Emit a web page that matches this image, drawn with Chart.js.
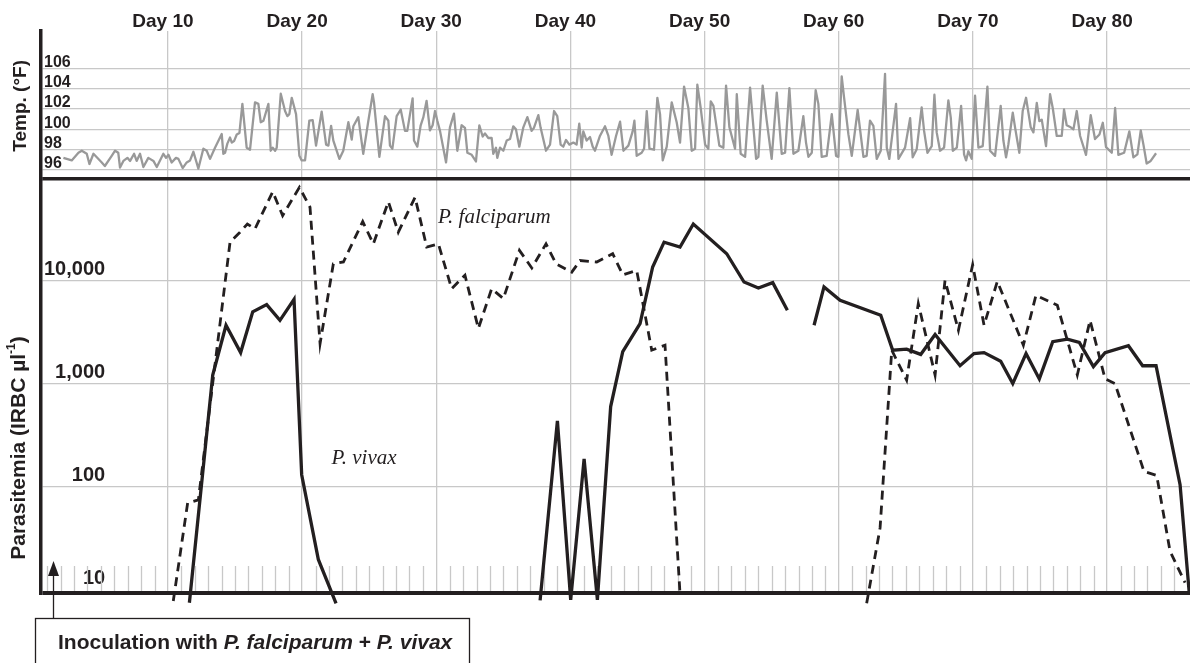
<!DOCTYPE html>
<html>
<head>
<meta charset="utf-8">
<title>Temperature and parasitemia</title>
<script src="https://cdn.jsdelivr.net/npm/chart.js@4.4.1/dist/chart.umd.min.js"></script>
<style>
  html, body { margin: 0; padding: 0; background: #fff; }
  canvas { display: block; }
</style>
</head>
<body>
<canvas id="chart" width="1190" height="663"></canvas>
<script>
// day ticks along the top
const dayLabels = [10, 20, 30, 40, 50, 60, 70, 80];
const tempTicks = [96, 98, 100, 102, 104, 106];
const parTicks = [10, 100, 1000, 10000];

// body temperature (°F)
const tempDays = [
  2.21, 2.83, 3.33, 3.58, 3.95, 4.15, 4.45, 5.07, 5.3, 5.81, 6.06, 6.3, 6.43, 6.68, 6.98, 7.18,
  7.48, 7.67, 7.92, 8.17, 8.54, 8.92, 9.17, 9.66, 9.86, 10.04, 10.28, 10.6, 10.78, 11.1, 11.4,
  11.65, 11.9, 12.27, 12.64, 12.89, 13.14, 13.51, 14.01, 14.13, 14.26, 14.43, 14.63, 14.76,
  14.93, 15.13, 15.33, 15.55, 15.87, 16.12, 16.49, 16.74, 16.92, 17.12, 17.49, 17.66, 17.81,
  17.99, 18.11, 18.41, 18.73, 18.9, 19.05, 19.23, 19.55, 19.8, 19.97, 20.22, 20.54, 20.79,
  21.04, 21.46, 21.79, 21.96, 22.16, 22.33, 22.78,
  23.07, 23.45, 23.7, 23.82, 24.19, 24.56, 24.94, 25.26, 25.36, 25.76, 26.18, 26.43, 26.55,
  26.73, 27.05, 27.35, 27.67, 27.84, 28.24, 28.34, 28.59, 28.84, 29.04, 29.28, 29.53, 29.73,
  29.91, 30.08, 30.28, 30.73, 31.02, 31.32, 31.57, 31.89, 32.14, 32.32, 32.64, 32.96, 33.21,
  33.46, 33.63, 33.88, 34.13, 34.25, 34.45, 34.55, 34.75, 35.0, 35.25, 35.5, 35.74, 35.94,
  36.19, 36.49, 36.79, 37.11, 37.28, 37.61, 37.78, 38.18, 38.48, 38.78, 39.02, 39.27, 39.47,
  39.67, 39.92, 40.22, 40.46, 40.66, 40.84, 40.96, 41.21, 41.46, 41.66, 41.83, 42.2, 42.58,
  42.83, 43.07, 43.4,
  43.7, 43.95, 44.32, 44.64, 44.77, 44.94, 45.31, 45.49, 45.69, 45.89, 46.23, 46.48, 46.68,
  46.88, 47.18, 47.55, 47.92, 48.17, 48.47, 48.79, 49.04, 49.29, 49.46, 49.71, 50.04, 50.28,
  50.46, 50.66, 51.1, 51.4, 51.6, 51.85, 52.27, 52.4, 52.69, 53.02, 53.39, 53.84, 54.01, 54.33,
  54.63, 55.0, 55.38, 55.75, 56.0, 56.32, 56.62, 56.99, 57.36, 57.56, 57.74, 57.99, 58.28,
  58.48, 58.73, 59.1, 59.48, 59.8, 59.97, 60.22, 60.4, 60.72, 60.97, 61.41, 61.84, 62.08,
  62.33, 62.58, 62.83, 63.13, 63.45, 63.58, 63.77, 64.27, 64.45,
  64.94, 65.32, 65.51, 65.81, 66.18, 66.36, 66.61, 66.93, 67.13, 67.3, 67.55, 67.85, 68.17,
  68.35, 68.5, 68.8, 69.12, 69.34, 69.49, 69.66, 69.91, 70.16, 70.41, 70.73, 71.08, 71.28,
  71.65, 72.07, 72.27, 72.47, 72.64, 72.97, 73.14, 73.46, 73.71, 73.96, 74.31, 74.51, 74.76,
  74.95, 75.13, 75.45, 75.75, 75.95, 76.25, 76.62, 76.79, 76.99, 77.29, 77.49, 77.74, 77.99,
  78.43, 78.78, 79.1, 79.43, 79.68, 79.92, 80.35, 80.6, 80.84, 81.27, 81.66, 81.96, 82.26,
  82.51, 82.71, 82.95, 83.25, 83.65
];
const tempF = [
  97.2, 96.95, 97.7, 97.9, 97.6, 96.6, 97.6, 96.75, 96.4, 97.4, 97.9, 97.7, 96.25, 96.9, 97.2, 96.9,
  97.6, 96.9, 97.6, 96.3, 97.2, 96.9, 96.3, 97.6, 97.2, 97.5, 96.75, 97.2, 97.1, 96.2, 96.75,
  96.95, 97.8, 96.15, 98.1, 97.9, 97.1, 98.2, 99.55, 97.6, 97.7, 98.6, 99.2, 98.7,
  98.85, 99.5, 99.65, 102.5, 98.2, 98.0, 102.65, 102.5, 100.7, 100.85, 102.5, 97.9, 98.2,
  97.9, 98.2, 103.5, 101.8, 101.3, 101.5, 103.1, 101.5, 97.4, 96.95, 96.95, 100.85, 100.9,
  98.4, 101.75, 98.5, 98.4, 100.35, 98.9, 97.1,
  97.9, 100.7, 99.0, 100.3, 101.2, 97.6, 100.85, 103.45, 102.65, 97.3, 101.3, 100.85, 98.4,
  98.1, 101.3, 101.95, 99.85, 99.85, 103.05, 98.9, 98.3, 100.4, 101.2, 102.8, 99.9, 100.4,
  101.8, 100.85, 99.85, 96.75, 100.2, 101.55, 97.9, 100.4, 100.15, 97.7, 97.5, 96.85, 100.4,
  99.3, 99.6, 99.15, 99.15, 97.6, 98.2, 97.2, 98.2, 97.9, 98.9, 99.05, 100.3, 100.0,
  98.3, 100.2, 101.2, 99.85, 100.15, 101.4, 100.15, 97.9, 98.5, 101.8, 101.3, 98.5, 98.3,
  98.95, 98.5, 98.7, 98.5, 100.55, 98.2, 99.8, 98.9, 99.25, 98.3, 97.9, 99.35, 100.3,
  99.35, 97.5, 99.35,
  100.75, 97.9, 98.4, 99.8, 100.85, 97.4, 97.7, 98.1, 101.8, 98.1, 98.0, 103.1, 101.5,
  96.95, 98.3, 102.65, 100.7, 98.7, 104.2, 102.1, 97.9, 98.1, 104.4, 102.1, 98.5, 98.1,
  102.75, 102.3, 98.4, 98.2, 104.3, 100.2, 98.1, 103.45, 97.6, 97.3, 104.1, 97.1, 97.3, 104.3,
  100.85, 97.1, 103.6, 97.6, 97.7, 104.05, 97.6, 97.9, 101.3, 98.7, 97.3, 97.7, 103.85,
  102.5, 97.3, 97.4, 101.5, 97.4, 97.3, 105.2, 103.1, 99.5, 97.4, 101.9, 97.3, 97.4,
  100.85, 100.35, 97.1, 97.9, 105.45, 98.2, 97.1, 102.5, 97.1,
  98.2, 101.1, 97.25, 98.05, 102.15, 99.85, 97.7, 98.35, 103.4, 99.7, 97.9, 98.2, 102.85,
  101.15, 97.9, 98.2, 102.3, 97.55, 96.95, 97.85, 97.1, 103.3, 98.2, 98.35, 104.2, 97.9,
  97.4, 102.3, 98.9, 97.25, 98.5, 101.65, 100.2, 97.7, 101.8, 103.1, 100.2, 99.7, 102.6,
  100.8, 100.95, 98.35, 103.45, 102.1, 99.35, 99.35, 101.95, 100.4, 100.2, 100.0, 101.8, 99.35,
  97.5, 101.4, 99.05, 99.5, 100.65, 98.25, 97.7, 102.1, 97.5, 97.7, 99.8, 97.25, 97.55,
  99.9, 98.5, 96.65, 96.9, 97.65
];

// parasitemia (IRBC per µl); values under 10 run off the bottom, null = break in the line
const falcDays = [
  10.4, 11.47, 12.27, 14.63, 15.37, 15.92, 16.49, 17.81, 18.55, 19.8, 20.59, 21.34, 22.33,
  23.08, 24.52, 25.31, 26.43, 27.17, 28.42, 29.29, 30.16, 31.15, 32.14, 33.14, 34.13, 35.0,
  36.2, 37.12, 38.18, 38.93, 40.1, 40.72, 41.96, 43.15, 43.9, 44.94, 46.06, 47.05, 48.17,
  55,
  62.08, 63.08, 63.95, 65.06, 65.93, 67.18, 67.92, 68.92, 69.98, 70.83, 71.82, 73.76, 74.7,
  76.29, 77.78, 78.73, 79.85, 80.59, 82.75, 83.7, 84.69, 85.81
];
const falcValues = [
  7.7, 69, 74, 23700, 29600, 35600, 31900, 73300, 43000, 80900, 51800, 2450, 14600,
  15200, 37600, 22800, 58600, 29600, 64700, 21200, 22800, 8360, 11300, 3430, 8360, 6690,
  19700, 13300, 22800, 14600, 12100, 15700, 15200, 18300, 11400, 12600, 2110, 2360, 9,
  null,
  7.3, 39.5, 2110, 1080, 5990, 1210, 10060, 3300, 14300, 3690, 9850, 2360, 7220,
  5770, 1210, 4120, 1110, 1000, 140, 128, 23.5, 11.6
];
const vivaxDays = [
  11.6, 13.34, 14.33, 15.42, 16.32, 17.36, 18.35, 19.4, 19.97, 21.21, 22.53,
  30,
  37.74, 39.03, 40.02, 41.02, 42.01, 43.0, 43.9, 45.19, 46.13, 46.98, 48.17, 49.16, 51.65,
  52.94, 54.01, 55.08, 56.17,
  57.2,
  58.16, 58.9, 60.1, 63.13, 64.02, 65.06, 66.11, 67.18, 69.04, 70.08, 70.83, 72.07, 72.97,
  73.96, 74.95, 75.95, 77.04, 77.93, 78.98, 79.85, 81.59, 82.65, 83.65, 85.44, 86.13
];
const vivaxValues = [
  7.4, 1210, 3690, 2000, 4980, 5850, 4120, 6590, 130, 19.5, 7.3,
  null,
  7.8, 434, 7.9, 185, 7.9, 597, 2040, 3830, 13600, 23700, 21200, 35600, 18300,
  9710, 8490, 9570, 5160,
  null,
  3690, 8700, 6440, 4610, 2110, 2160, 1920, 3000, 1490, 1960, 2000, 1650, 1000,
  1960, 1110, 2550, 2700, 2510, 1460, 2000, 2330, 1490, 1490, 104, 9
];

const speciesNotes = [
  { text: 'P. falciparum', day: 30.13, value: 36500 },
  { text: 'P. vivax', day: 22.2, value: 164 }
];
const inoculationDay = 1.4;

const INK = '#231f20';
const GRID = '#c8c8c8';
const SANS = "'Liberation Sans', Arial, Helvetica, sans-serif";
const SERIF = "'Liberation Serif', 'Times New Roman', serif";
const TEMP_MIN = 95.15, TEMP_MAX = 109.66;
const PAR_MIN = 9.2, PAR_MAX = 98000;

function points(days, values) {
  return days.map((d, i) => ({ x: d, y: values[i] }));
}

// little daily ticks standing on the bottom axis
const dailyTicks = {
  id: 'dailyTicks',
  beforeDatasetsDraw(chart) {
    const { ctx, chartArea, scales } = chart;
    ctx.save();
    ctx.strokeStyle = GRID;
    ctx.lineWidth = 1.3;
    ctx.beginPath();
    for (let d = 1; d <= 85; d++) {
      if (d % 10 === 0) continue;
      const x = Math.round(scales.x.getPixelForValue(d)) + 0.5;
      ctx.moveTo(x, chartArea.bottom - 27);
      ctx.lineTo(x, chartArea.bottom - 2);
    }
    ctx.stroke();
    ctx.restore();
  }
};

const notes = {
  id: 'notes',
  afterDatasetsDraw(chart) {
    const { ctx, scales } = chart;
    ctx.save();
    ctx.fillStyle = INK;
    ctx.font = 'italic 21px ' + SERIF;
    ctx.textBaseline = 'alphabetic';
    speciesNotes.forEach(n => {
      ctx.fillText(n.text, scales.x.getPixelForValue(n.day), scales.par.getPixelForValue(n.value));
    });
    ctx.restore();
  }
};

const sideTitles = {
  id: 'sideTitles',
  afterDraw(chart) {
    const { ctx } = chart;
    const temp = chart.scales.temp;
    ctx.save();
    ctx.fillStyle = INK;
    ctx.textBaseline = 'middle';

    ctx.save();
    ctx.translate(21, (temp.top + temp.bottom) / 2 + 1);
    ctx.rotate(-Math.PI / 2);
    ctx.font = 'bold 19px ' + SANS;
    ctx.textAlign = 'center';
    ctx.fillText('Temp. (°F)', 0, 0);
    ctx.restore();

    ctx.save();
    ctx.translate(19, 448);
    ctx.rotate(-Math.PI / 2);
    ctx.textAlign = 'left';
    const main = 'Parasitemia (IRBC µl', sup = '-1', close = ')';
    ctx.font = 'bold 21px ' + SANS;
    const w1 = ctx.measureText(main).width, w3 = ctx.measureText(close).width;
    ctx.font = 'bold 12px ' + SANS;
    const w2 = ctx.measureText(sup).width;
    let x = -(w1 + w2 + w3) / 2;
    ctx.font = 'bold 21px ' + SANS;
    ctx.fillText(main, x, 0);
    x += w1;
    ctx.font = 'bold 12px ' + SANS;
    ctx.fillText(sup, x, -7);
    x += w2;
    ctx.font = 'bold 21px ' + SANS;
    ctx.fillText(close, x, 0);
    ctx.restore();

    ctx.restore();
  }
};

const inoculation = {
  id: 'inoculation',
  afterDraw(chart) {
    const { ctx, scales } = chart;
    const x = Math.round(scales.x.getPixelForValue(inoculationDay)) + 0.5;
    ctx.save();
    ctx.strokeStyle = INK;
    ctx.fillStyle = INK;
    ctx.lineWidth = 1.3;
    ctx.strokeRect(35.5, 618.5, 434, 60);
    ctx.beginPath();
    ctx.moveTo(x, 618.5);
    ctx.lineTo(x, 572);
    ctx.stroke();
    ctx.beginPath();
    ctx.moveTo(x, 561);
    ctx.lineTo(x - 5.5, 576);
    ctx.lineTo(x + 5.5, 576);
    ctx.closePath();
    ctx.fill();

    const parts = [
      ['Inoculation with ', 'bold'],
      ['P. falciparum', 'italic bold'],
      [' + ', 'bold'],
      ['P. vivax', 'italic bold']
    ];
    let tx = 58;
    ctx.textBaseline = 'alphabetic';
    parts.forEach(([t, style]) => {
      ctx.font = style + ' 21px ' + SANS;
      ctx.fillText(t, tx, 649);
      tx += ctx.measureText(t).width;
    });
    ctx.restore();
  }
};

new Chart(document.getElementById('chart'), {
  type: 'line',
  data: {
    datasets: [{
      label: 'Temperature',
      data: points(tempDays, tempF),
      yAxisID: 'temp',
      borderColor: '#999999',
      borderWidth: 2.3,
      borderJoinStyle: 'round',
      pointRadius: 0,
      tension: 0
    }, {
      label: 'P. falciparum',
      data: points(falcDays, falcValues),
      yAxisID: 'par',
      borderColor: INK,
      borderWidth: 2.8,
      borderDash: [9, 6],
      pointRadius: 0,
      tension: 0,
      clip: { left: 0, right: 0, top: 0, bottom: 14 }
    }, {
      label: 'P. vivax',
      data: points(vivaxDays, vivaxValues),
      yAxisID: 'par',
      borderColor: INK,
      borderWidth: 3.3,
      pointRadius: 0,
      tension: 0,
      clip: { left: 0, right: 0, top: 0, bottom: 14 }
    }]
  },
  options: {
    responsive: false,
    animation: false,
    events: [],
    spanGaps: false,
    layout: { padding: { left: 35, right: 0, top: 12, bottom: 70 } },
    plugins: {
      legend: { display: false },
      tooltip: { enabled: false }
    },
    scales: {
      x: {
        type: 'linear',
        position: 'top',
        min: 0.54,
        max: 86.18,
        afterBuildTicks: s => { s.ticks = dayLabels.map(v => ({ value: v })); },
        ticks: {
          callback: v => 'Day ' + v,
          color: INK,
          font: { family: SANS, size: 19, weight: 'bold', lineHeight: 1 },
          padding: 0,
          labelOffset: -5,
          autoSkip: false,
          maxRotation: 0
        },
        grid: { color: GRID, lineWidth: 1.3, drawTicks: false },
        border: { display: false }
      },
      par: {
        type: 'logarithmic',
        position: 'left',
        stack: 'left',
        stackWeight: 415,
        weight: 1,
        min: PAR_MIN,
        max: PAR_MAX,
        afterBuildTicks: s => { s.ticks = [PAR_MIN, ...parTicks].map(v => ({ value: v })); },
        ticks: {
          callback: v => v < 10 ? '' : v.toLocaleString('en-US'),
          color: INK,
          font: { family: SANS, size: 20, weight: 'bold' },
          mirror: true,
          crossAlign: 'far',
          padding: 3,
          labelOffset: -11,
          autoSkip: false
        },
        grid: {
          drawTicks: false,
          color: c => c.tick.value === PAR_MIN ? INK : (c.tick.value === 10 ? 'rgba(0,0,0,0)' : GRID),
          lineWidth: c => c.tick.value === PAR_MIN ? 4 : 1.3
        },
        border: { display: true, color: INK, width: 3.5 }
      },
      temp: {
        type: 'linear',
        position: 'left',
        stack: 'left',
        stackWeight: 148,
        weight: 2,
        min: TEMP_MIN,
        max: TEMP_MAX,
        afterBuildTicks: s => { s.ticks = [TEMP_MIN, ...tempTicks].map(v => ({ value: v })); },
        ticks: {
          callback: v => v < 96 ? '' : v,
          color: INK,
          font: { family: SANS, size: 16, weight: 'bold' },
          mirror: true,
          crossAlign: 'near',
          padding: 3,
          labelOffset: -6,
          autoSkip: false
        },
        grid: {
          drawTicks: false,
          color: c => c.tick.value === TEMP_MIN ? INK : GRID,
          lineWidth: c => c.tick.value === TEMP_MIN ? 3.5 : 1.3
        },
        border: { display: true, color: INK, width: 3.5 }
      }
    }
  },
  plugins: [dailyTicks, notes, sideTitles, inoculation]
});
</script>
</body>
</html>
